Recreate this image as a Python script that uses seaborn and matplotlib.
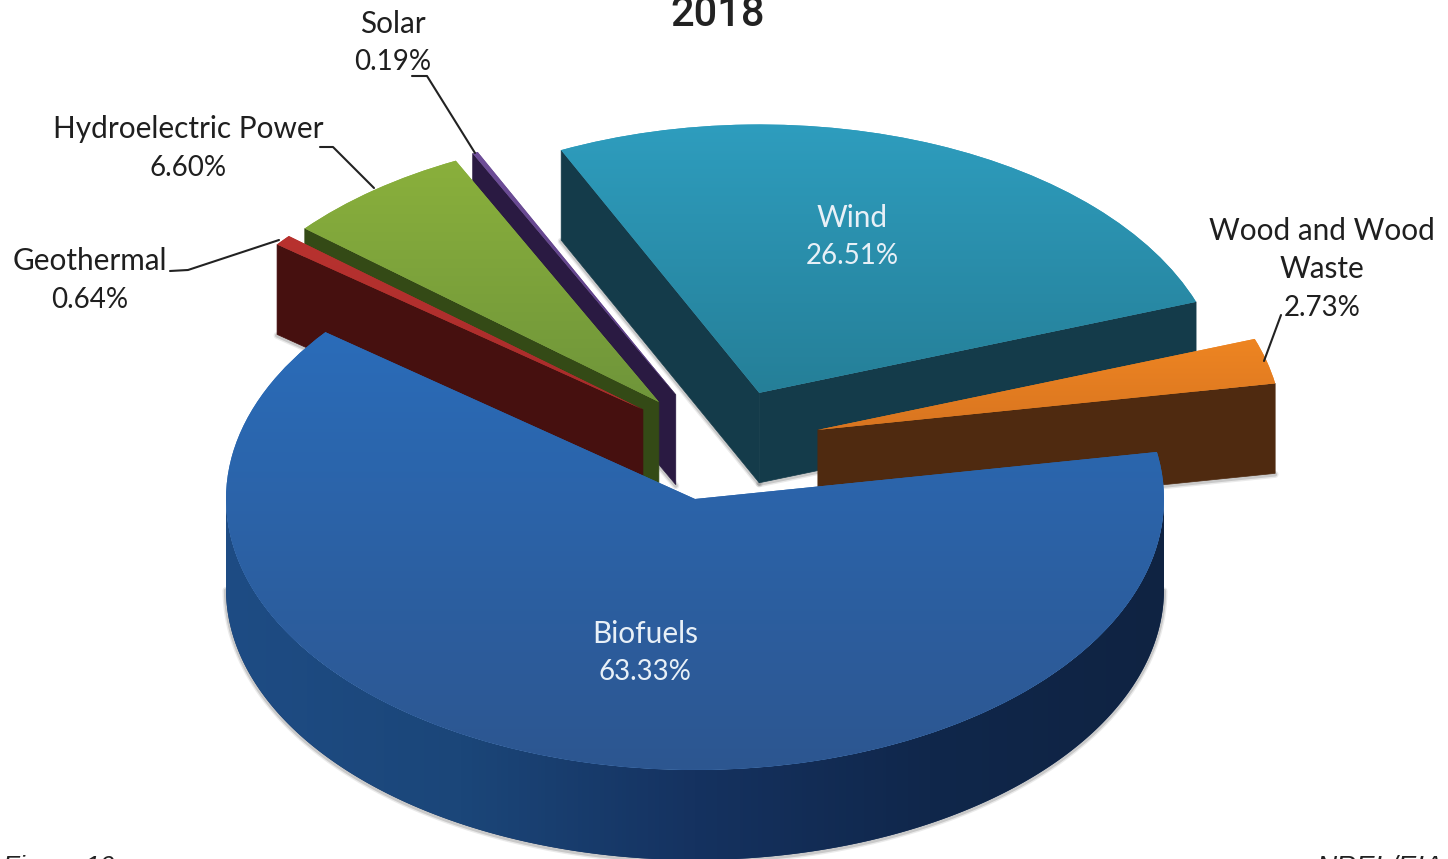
import numpy as np
import matplotlib
matplotlib.use("Agg")
import matplotlib.pyplot as plt
import seaborn as sns
from matplotlib.colors import LinearSegmentedColormap
from matplotlib.patches import Polygon
from matplotlib.transforms import Affine2D

# ---------- data ----------
sources = ["Biofuels", "Wood and Wood\nWaste", "Wind", "Solar", "Hydroelectric Power", "Geothermal"]
shares = [63.33, 2.73, 26.51, 0.19, 6.60, 0.64]
title = "2018"
footer_left = "Figure 10"
footer_right = "NREL/EIA"

# ---------- style ----------
top_light = ["#2A6CB9", "#EE8522", "#2E9DBE", "#6E4E98", "#8AB03C", "#B8322F"]
top_dark = ["#2D5690", "#D97520", "#257F98", "#5A3F82", "#6F953A", "#A82C2B"]
wall_colors = [None, "#4F2A10", "#143B4A", "#2A1A42", "#344A16", "#46100F"]
bio_wall = ["#1E4C84", "#1B4679", "#153260", "#10274B", "#0F2342"]
# slice displacement from the pie centre, in radius units
offsets = [(0.0, 0.0), (0.262, 0.255), (0.137, 0.392), (-0.041, 0.385), (-0.077, 0.358), (-0.111, 0.330)]
slice_radius = [1.0, 0.99, 0.99, 0.99, 0.99, 0.99]
draw_order = [2, 3, 4, 5, 1, 0]
label_pos = [(645, 634), (1322, 231), (852, 218), (393, 24), (188, 129), (90, 261)]
label_colors = ["#E8F0F7", "#1F1F1F", "#E8F0F7", "#1F1F1F", "#1F1F1F", "#1F1F1F"]
leaders = [
    None,
    [(1281, 315), (1264, 361)],
    None,
    [(412, 76), (427, 76), (475, 153)],
    [(320, 147), (333, 147), (374, 188)],
    [(170, 271), (188, 270), (279, 240)],
]

W, H = 1448, 859
CX, CY, RX, RY = 695, 499, 469, 271
DEPTH = 90 / RY
LINE_GAP = 38.5

sns.set_theme(style="white")
plt.rcParams["font.family"] = ["Lato", "DejaVu Sans"]

fig = plt.figure(figsize=(W / 100, H / 100), dpi=100, facecolor="white")
ax = fig.add_axes([0, 0, 1, 1])

wedges, _ = ax.pie(shares, startangle=142, radius=1.0, counterclock=True,
                   colors=sns.color_palette(top_light))
ax.set_aspect("auto")
PX = Affine2D().scale(1 / W, -1 / H).translate(0, 1) + fig.transFigure


def soft_edge(xs, ys, z):
    for lw, a in ((5, 0.12), (3, 0.22)):
        ax.plot(xs, np.asarray(ys) - 0.004, color="#555555", lw=lw, alpha=a, zorder=z,
                solid_capstyle="round")


for rank, i in enumerate(draw_order):
    w = wedges[i]
    ox, oy = offsets[i]
    w.set_center((ox, oy))
    w.set_radius(slice_radius[i])
    r, t1, t2 = w.r, w.theta1, w.theta2
    base = 10 * (rank + 1)

    # side walls facing the viewer
    if i == 0:
        th = np.radians(np.linspace(t1, t2, 720))
        th = th[np.sin(th) <= 0]
        x = ox + r * np.cos(th)
        y = oy + r * np.sin(th)
        poly = Polygon(np.column_stack([np.r_[x, x[::-1]], np.r_[y, y[::-1] - DEPTH]]),
                       closed=True, fc=bio_wall[2], ec="none", zorder=base + 1)
        ax.add_patch(poly)
        soft_edge(x, y - DEPTH, base)
        cmap = LinearSegmentedColormap.from_list("bw", bio_wall)
        im = ax.imshow(np.linspace(0, 1, 256)[None, :], cmap=cmap, aspect="auto",
                       extent=[ox - r, ox + r, y.min() - DEPTH, y.max()], zorder=base + 2)
        im.set_clip_path(poly)
    else:
        for theta, normal in ((t1, t1 - 90), (t2, t2 + 90)):
            if np.sin(np.radians(normal)) < 0:
                ex = ox + r * np.cos(np.radians(theta))
                ey = oy + r * np.sin(np.radians(theta))
                ax.add_patch(Polygon([(ox, oy), (ex, ey), (ex, ey - DEPTH), (ox, oy - DEPTH)],
                                     closed=True, fc=wall_colors[i], ec=wall_colors[i], lw=0.5,
                                     zorder=base + 1))
                soft_edge([ox, ex], [oy - DEPTH, ey - DEPTH], base)

    # top face with its vertical gradient
    w.set_zorder(base + 3)
    w.set_edgecolor("none")
    th = np.radians(np.linspace(t1, t2, 200))
    ys = np.r_[oy, oy + r * np.sin(th)]
    cmap = LinearSegmentedColormap.from_list(f"t{i}", [top_dark[i], top_light[i]])
    im = ax.imshow(np.linspace(0, 1, 256)[:, None], cmap=cmap, origin="lower", aspect="auto",
                   extent=[ox - r, ox + r, ys.min(), ys.max()], zorder=base + 4)
    im.set_clip_path(w)

ax.set_xlim((0 - CX) / RX, (W - CX) / RX)
ax.set_ylim((CY - H) / RY, CY / RY)
ax.set_axis_off()

# ---------- labels ----------
for name, share, (x, y), color in zip(sources, shares, label_pos, label_colors):
    lines = name.split("\n")
    for k, line in enumerate(lines):
        ax.text(x, y + k * LINE_GAP, line, transform=PX, ha="center", va="center",
                fontsize=21.4, color=color, zorder=200, clip_on=False)
    ax.text(x, y + len(lines) * LINE_GAP, f"{share:.2f}%", transform=PX, ha="center", va="center",
            fontsize=20, color=color, zorder=200, clip_on=False)

for pts in leaders:
    if pts:
        xs, ys = zip(*pts)
        ax.plot(xs, ys, transform=PX, color="#222222", lw=1.5, zorder=150)

ax.text(718, 14, title, transform=PX, ha="center", va="center", fontsize=30,
        fontweight=500, family=["Roboto", "DejaVu Sans"], color="#222222", zorder=200)
ax.text(3, 855, footer_left, transform=PX, ha="left", va="top", fontsize=19, style="italic",
        family=["Liberation Sans", "DejaVu Sans"], color="#222222", zorder=200)
ax.text(1316, 855, footer_right, transform=PX, ha="left", va="top", fontsize=20, style="italic",
        family=["Liberation Sans", "DejaVu Sans"], color="#222222", zorder=200)

fig.savefig("out.png", dpi=100, facecolor="white")
